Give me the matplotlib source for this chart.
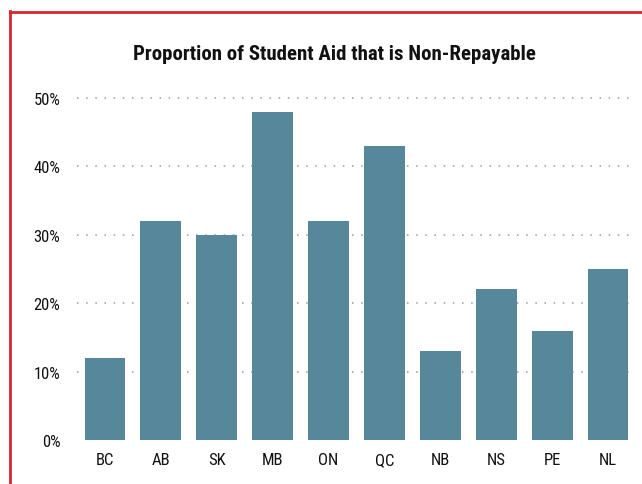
import matplotlib
matplotlib.use("Agg")
import matplotlib.pyplot as plt
from matplotlib.ticker import FuncFormatter
from matplotlib import font_manager

names = {f.name for f in font_manager.fontManager.ttflist}
fam = ['Liberation Sans Narrow', 'Roboto Condensed', 'DejaVu Sans']
fam = [f for f in fam if f in names] or ['DejaVu Sans']
plt.rcParams['font.family'] = fam

provinces = ["BC", "AB", "SK", "MB", "ON", "QC", "NB", "NS", "PE", "NL"]
non_repayable_pct = [12, 32, 30, 48, 32, 43, 13, 22, 16, 25]
y_ticks = [0, 10, 20, 30, 40, 50]

fig = plt.figure(figsize=(6.42, 4.85), dpi=100)
ax = fig.add_axes([77 / 642, 1 - 441 / 485, (636 - 77) / 642, (441 - 90) / 485])

ax.bar(range(len(provinces)), non_repayable_pct, width=0.73, color="#56879b", zorder=2)
ax.set_xlim(-0.5, len(provinces) - 0.5)
ax.set_ylim(0, 51.3)
ax.set_yticks(y_ticks)
ax.yaxis.set_major_formatter(FuncFormatter(lambda v, p: f"{int(v)}%"))
ax.set_xticks(range(len(provinces)))
ax.set_xticklabels(provinces)
ax.tick_params(axis='both', length=0, labelsize=12, colors="#111111")
ax.tick_params(axis='y', pad=12)
ax.tick_params(axis='x', pad=9)
for s in ax.spines.values():
    s.set_visible(False)
for t in y_ticks[1:]:
    ax.axhline(t, color="#9a9a9a", linestyle=(0, (1, 5)), linewidth=1.1, zorder=1)

fig.text(334 / 642, 1 - 54 / 485, "Proportion of Student Aid that is Non-Repayable",
         ha="center", va="center", fontsize=15, fontweight="bold", color="#111111")

# red frame on left and top
fig.add_artist(plt.Line2D([10.5 / 642, 10.5 / 642], [0, 1 - 12 / 485], transform=fig.transFigure,
                          color="#d9262e", linewidth=2))
fig.add_artist(plt.Line2D([10.5 / 642, 1], [1 - 12.5 / 485, 1 - 12.5 / 485], transform=fig.transFigure,
                          color="#d9262e", linewidth=2))

fig.savefig("out.png", dpi=100)
